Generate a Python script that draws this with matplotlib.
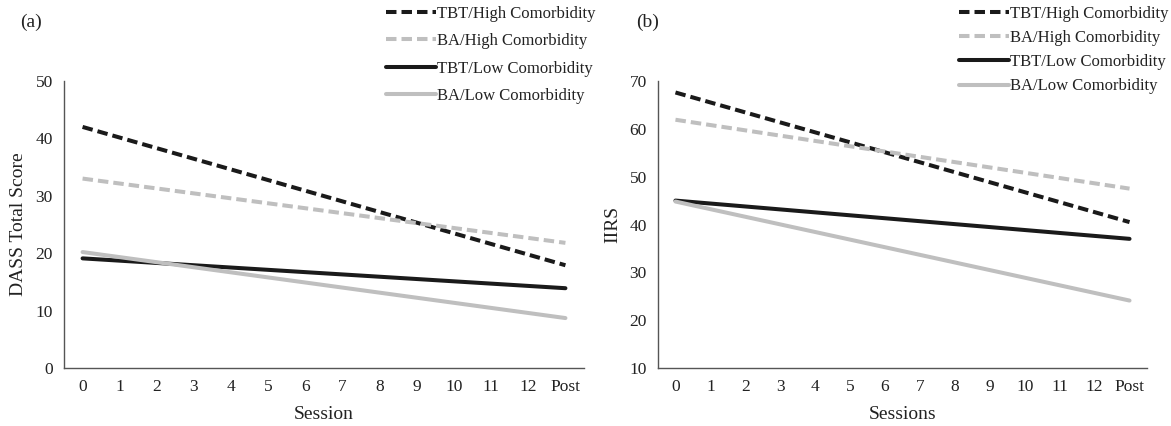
import matplotlib
matplotlib.use("Agg")
import matplotlib.pyplot as plt
import numpy as np

plt.rcParams['font.family'] = ['Liberation Serif', 'DejaVu Serif']

sessions = ["0", "1", "2", "3", "4", "5", "6", "7", "8", "9", "10", "11", "12", "Post"]
series_names = ["TBT/High Comorbidity", "BA/High Comorbidity",
                "TBT/Low Comorbidity", "BA/Low Comorbidity"]

# values at session 0 and at Post (straight-line growth curves)
dass_start = [42.0, 33.0, 19.1, 20.2]
dass_post = [17.9, 21.8, 13.9, 8.7]
iirs_start = [67.6, 61.9, 45.0, 44.8]
iirs_post = [40.5, 47.5, 37.0, 24.1]

colors = ["#1a1a1a", "#bfbfbf", "#1a1a1a", "#bfbfbf"]
styles = [(0, (2.6, 1.25)), (0, (2.6, 1.25)), "-", "-"]

fig = plt.figure(figsize=(11.71, 4.26), dpi=100)
W, H = 1171, 426
axL = fig.add_axes([64 / W, 1 - 368 / H, (584 - 64) / W, (368 - 81) / H])
axR = fig.add_axes([658 / W, 1 - 368 / H, (1147 - 658) / W, (368 - 81) / H])

x_ends = [0, len(sessions) - 1]


def draw(ax, starts, posts, ylim, yticks, ylabel, xlabel, tag, leg_anchor, lspace):
    handles = []
    for name, s, p, c, ls in zip(series_names, starts, posts, colors, styles):
        h, = ax.plot(x_ends, [s, p], color=c, lw=2.9, linestyle=ls, label=name,
                     solid_capstyle='round', dash_capstyle='butt')
        handles.append(h)
    ax.set_xlim(-0.5, len(sessions) - 0.5)
    ax.set_ylim(*ylim)
    ax.set_xticks(range(len(sessions)))
    ax.set_xticklabels(sessions)
    ax.set_yticks(yticks)
    ax.tick_params(axis='both', length=0, labelsize=12.5, colors='#222222', pad=8)
    for sp in ["top", "right"]:
        ax.spines[sp].set_visible(False)
    for sp in ["left", "bottom"]:
        ax.spines[sp].set_color('#555555')
        ax.spines[sp].set_linewidth(1.0)
    ax.set_ylabel(ylabel, fontsize=14, color='#222222', labelpad=6)
    ax.set_xlabel(xlabel, fontsize=14, color='#222222', labelpad=8)
    fig.text(tag[0] / W, 1 - tag[1] / H, tag[2], fontsize=14, color='#222222',
             ha='left', va='center')
    fig.legend(handles=handles, loc='upper left', bbox_to_anchor=leg_anchor,
               frameon=False, fontsize=12, handlelength=3.0, handletextpad=0.08,
               labelspacing=lspace, borderaxespad=0, borderpad=0.0,
               labelcolor='#222222')


draw(axL, dass_start, dass_post, (0, 50), range(0, 51, 10), "DASS Total Score",
     "Session", (20, 22, "(a)"), (386 / W, 1 - 6 / H), 0.68)
draw(axR, iirs_start, iirs_post, (10, 70), range(10, 71, 10), "IIRS",
     "Sessions", (636, 22, "(b)"), (959 / W, 1 - 6 / H), 0.49)

fig.savefig("out.png", dpi=100)
